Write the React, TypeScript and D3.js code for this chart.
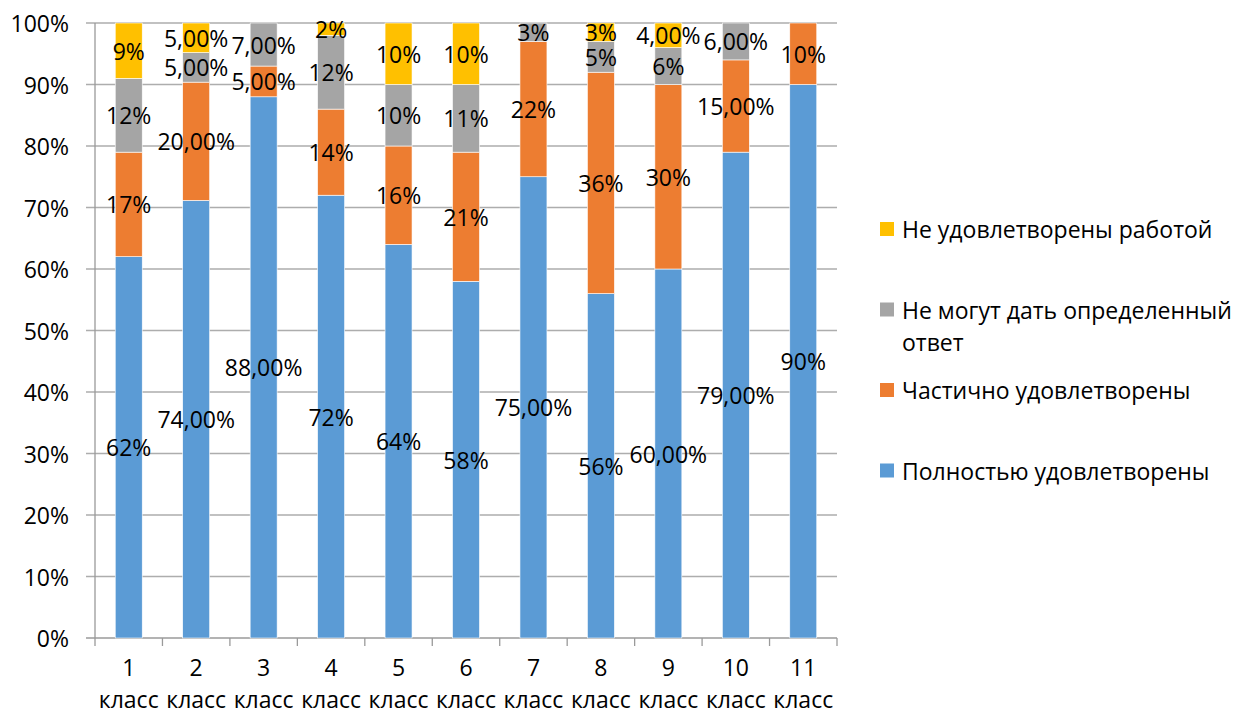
import * as d3 from "d3";

// classes on the x axis
const categories = ["1 класс", "2 класс", "3 класс", "4 класс", "5 класс", "6 класс", "7 класс", "8 класс", "9 класс", "10 класс", "11 класс"];

// series, bottom to top (raw answers in %, each column is normalised to 100%)
const fully = [62, 74, 88, 72, 64, 58, 75, 56, 60, 79, 90];
const partly = [17, 20, 5, 14, 16, 21, 22, 36, 30, 15, 10];
const unsure = [12, 5, 7, 12, 10, 11, 3, 5, 6, 6, 0];
const notSatisfied = [9, 5, 0, 2, 10, 10, 0, 3, 4, 0, 0];

// decimals used by each data label (the source mixes "62%" and "74,00%")
const fullyDec = [0, 2, 2, 0, 0, 0, 2, 0, 2, 2, 0];
const partlyDec = [0, 2, 2, 0, 0, 0, 0, 0, 0, 2, 0];
const unsureDec = [0, 2, 2, 0, 0, 0, 0, 0, 0, 2, 0];
const notSatisfiedDec = [0, 2, 0, 0, 0, 0, 0, 0, 2, 0, 0];

const seriesNames = ["Полностью удовлетворены", "Частично удовлетворены", "Не могут дать определенный ответ", "Не удовлетворены работой"];
const colors = ["#5B9BD5", "#ED7D31", "#A5A5A5", "#FFC000"];

const W = 1235, H = 715;
const FONT = "'Open Sans', sans-serif";
const FS = 23;
const plot = { left: 95, right: 837, top: 23, bottom: 638 };

const series = [fully, partly, unsure, notSatisfied];
const decs = [fullyDec, partlyDec, unsureDec, notSatisfiedDec];

const fmt = (v: number, d: number) => v.toFixed(d).replace(".", ",") + "%";

export default function App() {
  const rows = categories.map((c, i) => {
    const r: any = { cat: c };
    series.forEach((s, k) => (r[k] = s[i]));
    return r;
  });

  const stacked = d3.stack<any>()
    .keys(series.map((_, k) => String(k)))
    .offset(d3.stackOffsetExpand)(rows);

  const x = d3.scaleBand().domain(categories).range([plot.left, plot.right]).paddingInner(0.6).paddingOuter(0.3);
  const y = d3.scaleLinear().domain([0, 1]).range([plot.bottom, plot.top]);
  const step = (plot.right - plot.left) / categories.length;
  const ticks = y.ticks(10);
  const grid = "#ADADAD";
  const axis = "#9A9A9A";

  return (
    <svg width={W} height={H} style={{ position: "absolute", left: 0, top: 0, background: "#fff" }}
      fontFamily={FONT} fontSize={FS}>
      {/* gridlines and value axis */}
      {ticks.map(t => (
        <g key={t}>
          <line x1={plot.left - 9} x2={plot.right} y1={y(t)} y2={y(t)} stroke={t === 0 ? axis : grid} strokeWidth={1.3} />
          <text x={69} y={y(t)} textAnchor="end" dominantBaseline="central" fill="#000">{d3.format(".0%")(t)}</text>
        </g>
      ))}
      <line x1={plot.left} x2={plot.left} y1={plot.top} y2={plot.bottom + 8} stroke={axis} strokeWidth={1.3} />

      {/* category axis ticks */}
      {d3.range(1, categories.length + 1).map(i => (
        <line key={i} x1={plot.left + i * step} x2={plot.left + i * step} y1={plot.bottom} y2={plot.bottom + 8} stroke={axis} strokeWidth={1.3} />
      ))}
      {categories.map(c => {
        const cx = (x(c) ?? 0) + x.bandwidth() / 2;
        const [num, word] = c.split(" ");
        return (
          <g key={c}>
            <text x={cx} y={676} textAnchor="middle">{num}</text>
            <text x={cx} y={708} textAnchor="middle">{word}</text>
          </g>
        );
      })}

      {/* bars */}
      {stacked.map((layer, k) => (
        <g key={k} fill={colors[k]}>
          {layer.map((d, i) => (
            <rect key={i} x={x(categories[i])} width={x.bandwidth()} y={y(d[1])} height={Math.max(0, y(d[0]) - y(d[1]))}
              stroke="#fff" strokeWidth={0.6} />
          ))}
        </g>
      ))}

      {/* data labels */}
      {stacked.map((layer, k) => (
        <g key={"l" + k}>
          {layer.map((d, i) => series[k][i] > 0 ? (
            <text key={i} x={(x(categories[i]) ?? 0) + x.bandwidth() / 2} y={y((d[0] + d[1]) / 2)}
              textAnchor="middle" dominantBaseline="central" fill="#000">{fmt(series[k][i], decs[k][i])}</text>
          ) : null)}
        </g>
      ))}

      {/* legend, top entry is the top series */}
      {seriesNames.map((name, k) => {
        const idx = seriesNames.length - 1 - k;
        const cy = 229 + k * 80.5;
        const lines = seriesNames[idx] === "Не могут дать определенный ответ" ? ["Не могут дать определенный", "ответ"] : [seriesNames[idx]];
        return (
          <g key={name}>
            <rect x={880} y={cy - 7} width={14} height={14} fill={colors[idx]} />
            {lines.map((ln, j) => (
              <text key={j} x={902} y={cy + j * 32} dominantBaseline="central">{ln}</text>
            ))}
          </g>
        );
      })}
    </svg>
  );
}
